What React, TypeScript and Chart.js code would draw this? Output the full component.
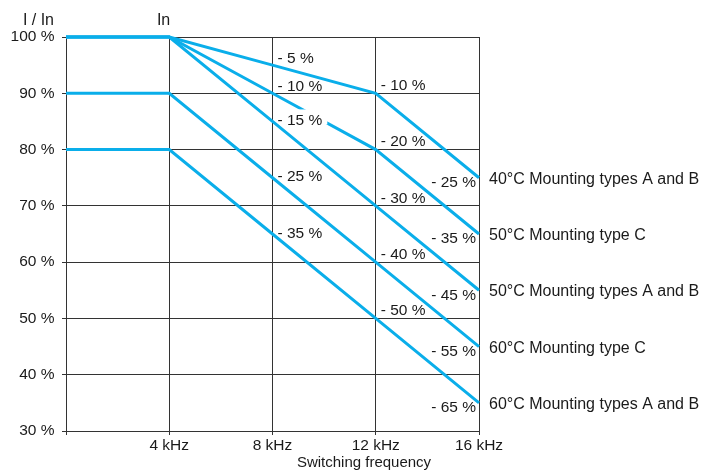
import { useEffect, useRef } from 'react';
import { Chart, registerables } from 'chart.js';

Chart.register(...registerables);

// ---- data ----
const FREQUENCIES_KHZ = [0, 4, 8, 12, 16];
const X_TICK_LABELS = ['', '4 kHz', '8 kHz', '12 kHz', '16 kHz'];
const SERIES_NAMES = [
  '40°C Mounting types A and B',
  '50°C Mounting type C',
  '50°C Mounting types A and B',
  '60°C Mounting type C',
  '60°C Mounting types A and B',
];
const S40_AB = [100, 100, 95, 90, 75];
const S50_C = [100, 100, 90, 80, 65];
const S50_AB = [100, 100, 85, 70, 55];
const S60_C = [90, 90, 75, 60, 45];
const S60_AB = [80, 80, 65, 50, 35];
const SERIES_VALUES = [S40_AB, S50_C, S50_AB, S60_C, S60_AB];
const LABELLED_KHZ = [8, 12, 16];
const Y_MIN = 30;
const Y_MAX = 100;
const Y_STEP = 10;
const X_MAX = 16;
const X_STEP = 4;

// ---- style ----
const FONT = "Arial, 'Liberation Sans', sans-serif";
const TEXT = '#1a1a1a';
const GRID = '#333333';
const LINE = '#0AAEEA';

const annotations = {
  id: 'annotations',
  afterDatasetsDraw(chart: any) {
    const { ctx, chartArea, scales } = chart;
    const x = scales.x;
    const y = scales.y;
    ctx.save();
    ctx.textBaseline = 'alphabetic';
    SERIES_VALUES.forEach((vals, i) => {
      ctx.font = `15.5px ${FONT}`;
      FREQUENCIES_KHZ.forEach((f, j) => {
        if (!LABELLED_KHZ.includes(f)) return;
        const v = vals[j];
        const txt = `- ${100 - v} %`;
        const px = x.getPixelForValue(f);
        const py = y.getPixelForValue(v);
        let tx: number;
        let ty: number;
        let align: CanvasTextAlign;
        if (f === 16) {
          align = 'right';
          tx = px - 3;
          ty = py + 9.3;
        } else if (f === 12) {
          align = 'left';
          tx = px + 5;
          ty = py - 3.2;
        } else {
          align = 'left';
          tx = px + 5;
          ty = py + (i < 2 ? -2 : 3.5);
        }
        ctx.textAlign = align;
        if (i === 2 && f === 8) {
          const w = ctx.measureText(txt).width;
          ctx.fillStyle = '#ffffff';
          ctx.fillRect(tx + 10, ty - 15.5, w - 5, 15);
        }
        ctx.fillStyle = TEXT;
        ctx.fillText(txt, tx, ty);
      });
      // series name at the right end
      const last = vals.length - 1;
      const ey = y.getPixelForValue(vals[last]);
      ctx.font = `16px ${FONT}`;
      ctx.textAlign = 'left';
      ctx.fillStyle = TEXT;
      ctx.fillText(SERIES_NAMES[i], chartArea.right + 10, ey + 6);
    });

    // axis captions
    ctx.font = `16px ${FONT}`;
    ctx.textAlign = 'right';
    ctx.fillText('I / In', 54, 25);
    ctx.fillText('In', x.getPixelForValue(4) + 1, 25);
    ctx.font = `15px ${FONT}`;
    ctx.textAlign = 'center';
    ctx.fillText('Switching frequency', chartArea.right - 115, 467);
    ctx.restore();
  },
};

export default function App() {
  const ref = useRef<HTMLCanvasElement>(null);

  useEffect(() => {
    const canvas = ref.current;
    if (!canvas) return;
    const chart = new Chart(canvas, {
      type: 'line',
      data: {
        datasets: SERIES_VALUES.map((vals, i) => ({
          label: SERIES_NAMES[i],
          data: vals.map((v, j) => ({ x: FREQUENCIES_KHZ[j], y: v })),
          borderColor: LINE,
          backgroundColor: LINE,
          borderWidth: 3,
          pointRadius: 0,
          tension: 0,
          fill: false,
          clip: false as any,
        })),
      },
      options: {
        responsive: false,
        devicePixelRatio: 1,
        animation: false,
        layout: { padding: { left: 0, top: 37, right: 227, bottom: 0 } },
        plugins: {
          legend: { display: false },
          tooltip: { enabled: false },
        },
        scales: {
          x: {
            type: 'linear',
            min: 0,
            max: X_MAX,
            afterFit: (s: any) => {
              s.height = 39;
            },
            ticks: {
              stepSize: X_STEP,
              autoSkip: false,
              maxRotation: 0,
              padding: 1.5,
              color: TEXT,
              font: { size: 15.5, family: FONT },
              callback: (v: any) => {
                const k = FREQUENCIES_KHZ.indexOf(Number(v));
                return k >= 0 ? X_TICK_LABELS[k] : '';
              },
            },
            grid: { color: GRID, lineWidth: 1, tickLength: 4, tickColor: GRID },
            border: { color: GRID, width: 1 },
          },
          y: {
            type: 'linear',
            min: Y_MIN,
            max: Y_MAX,
            afterFit: (s: any) => {
              s.width = 66;
            },
            ticks: {
              stepSize: Y_STEP,
              padding: 7.5,
              color: TEXT,
              font: { size: 15.5, family: FONT },
              callback: (v: any) => `${v} %`,
            },
            grid: { color: GRID, lineWidth: 1, tickLength: 4, tickColor: GRID },
            border: { color: GRID, width: 1 },
          },
        },
      },
      plugins: [annotations],
    });
    return () => chart.destroy();
  }, []);

  return (
    <div
      style={{
        position: 'absolute',
        left: 0,
        top: 0,
        width: 706,
        height: 470,
        background: '#ffffff',
      }}
    >
      <canvas ref={ref} width={706} height={470} style={{ display: 'block' }} />
    </div>
  );
}
